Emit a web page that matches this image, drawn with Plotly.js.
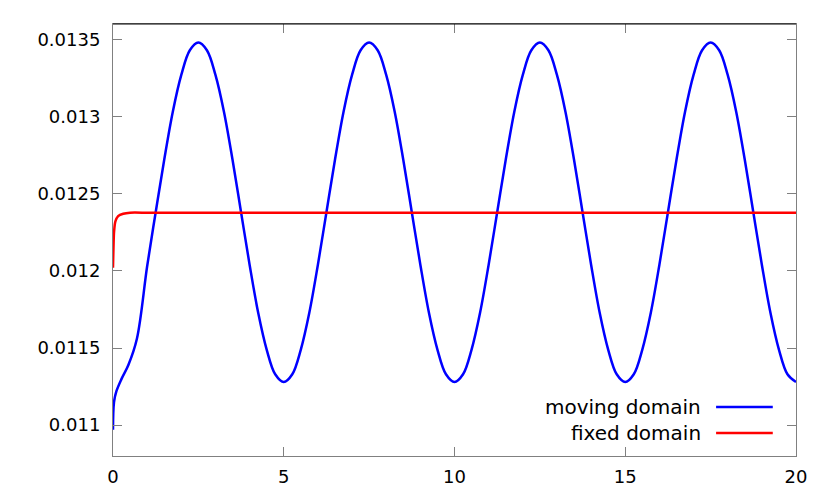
<!DOCTYPE html>
<html>
<head>
<meta charset="utf-8">
<script src="https://cdn.plot.ly/plotly-3.0.1.min.js"></script>
<style>body{margin:0;background:#fff}</style>
</head>
<body>
<div id="myDiv" style="width:830px;height:498px"></div>
<script>
// moving domain (blue): start-up transient, then one period repeated every 5 time units
var movingX = [0, 0.03, 0.1, 0.25, 0.45, 0.7,
  1, 1.25, 1.5, 1.75, 2, 2.25, 2.5, 2.75, 3, 3.25, 3.5, 3.75, 4, 4.25, 4.5, 4.75, 5,
  5.25, 5.5, 5.75, 6, 6.25, 6.5, 6.75, 7, 7.25, 7.5, 7.75, 8, 8.25, 8.5, 8.75, 9, 9.25, 9.5, 9.75, 10,
  10.25, 10.5, 10.75, 11, 11.25, 11.5, 11.75, 12, 12.25, 12.5, 12.75, 13, 13.25, 13.5, 13.75, 14, 14.25, 14.5, 14.75, 15,
  15.25, 15.5, 15.75, 16, 16.25, 16.5, 16.75, 17, 17.25, 17.5, 17.75, 18, 18.25, 18.5, 18.75, 19, 19.25, 19.5, 19.75, 20];
var movingY = [0.01097, 0.01115, 0.01122, 0.01130, 0.01139, 0.01156,
  0.01203, 0.01238, 0.01272, 0.01303, 0.01327, 0.01343, 0.01348, 0.01343, 0.01327, 0.01303, 0.01272, 0.01238, 0.01204, 0.01173, 0.01149, 0.01133, 0.01128,
  0.01133, 0.01149, 0.01173, 0.01204, 0.01238, 0.01272, 0.01303, 0.01327, 0.01343, 0.01348, 0.01343, 0.01327, 0.01303, 0.01272, 0.01238, 0.01204, 0.01173, 0.01149, 0.01133, 0.01128,
  0.01133, 0.01149, 0.01173, 0.01204, 0.01238, 0.01272, 0.01303, 0.01327, 0.01343, 0.01348, 0.01343, 0.01327, 0.01303, 0.01272, 0.01238, 0.01204, 0.01173, 0.01149, 0.01133, 0.01128,
  0.01133, 0.01149, 0.01173, 0.01204, 0.01238, 0.01272, 0.01303, 0.01327, 0.01343, 0.01348, 0.01343, 0.01327, 0.01303, 0.01272, 0.01238, 0.01204, 0.01173, 0.01149, 0.01133, 0.01128];

// fixed domain (red)
var fixedX = [0, 0.03, 0.07, 0.15, 0.3, 0.5, 1, 5, 10, 15, 20];
var fixedY = [0.01202, 0.01225, 0.01232, 0.012355, 0.01237, 0.012377,
  0.012377, 0.012377, 0.012377, 0.012377, 0.012377];

var xTicks = [0, 5, 10, 15, 20];
var yTicks = [0.011, 0.0115, 0.012, 0.0125, 0.013, 0.0135];
var yTickText = ['0.011', '0.0115', '0.012', '0.0125', '0.013', '0.0135'];

var names = ['moving domain', 'fixed domain'];
var colors = ['#0000ff', '#ff0000'];

var trace1 = {
  x: movingX, y: movingY, name: names[0], type: 'scatter', mode: 'lines',
  line: {color: colors[0], width: 2.5, shape: 'spline', smoothing: 1},
  showlegend: false
};
var trace2 = {
  x: fixedX, y: fixedY, name: names[1], type: 'scatter', mode: 'lines',
  line: {color: colors[1], width: 2.5, shape: 'spline', smoothing: 0.5},
  showlegend: false
};

// gnuplot style key: text on the left, line sample on the right
var keyY = [0.1134, 0.0532];
var annotations = names.map(function (n, i) {
  return {
    text: n, xref: 'paper', yref: 'paper', x: 0.864, y: keyY[i],
    xanchor: 'right', yanchor: 'middle', showarrow: false,
    font: {family: 'DejaVu Sans', size: 20, color: '#000'}
  };
});
var shapes = names.map(function (n, i) {
  return {
    type: 'line', xref: 'paper', yref: 'paper',
    x0: 0.883, x1: 0.966, y0: keyY[i], y1: keyY[i],
    line: {color: colors[i], width: 2.5}
  };
});
shapes.push({type: 'line', xref: 'paper', yref: 'paper', x0: 0, x1: 1, y0: 1, y1: 1,
  line: {color: '#000', width: 1.2}});

var layout = {
  width: 830, height: 498,
  margin: {l: 113, r: 34, t: 24, b: 42},
  paper_bgcolor: '#fff', plot_bgcolor: '#fff',
  font: {family: 'DejaVu Sans', size: 18, color: '#000'},
  xaxis: {
    range: [0, 20], tickvals: xTicks, ticks: 'inside', ticklen: 9, tickcolor: '#808080',
    showline: true, linecolor: '#808080', linewidth: 1, mirror: 'ticks',
    showgrid: false, zeroline: false, ticklabelstandoff: 4
  },
  yaxis: {
    range: [0.0108, 0.0136], tickvals: yTicks, ticktext: yTickText,
    ticks: 'inside', ticklen: 9, tickcolor: '#808080',
    showline: true, linecolor: '#808080', linewidth: 1, mirror: 'ticks',
    showgrid: false, zeroline: false, ticklabelstandoff: 8
  },
  annotations: annotations,
  shapes: shapes
};

Plotly.newPlot('myDiv', [trace1, trace2], layout, {staticPlot: true});
</script>
</body>
</html>
